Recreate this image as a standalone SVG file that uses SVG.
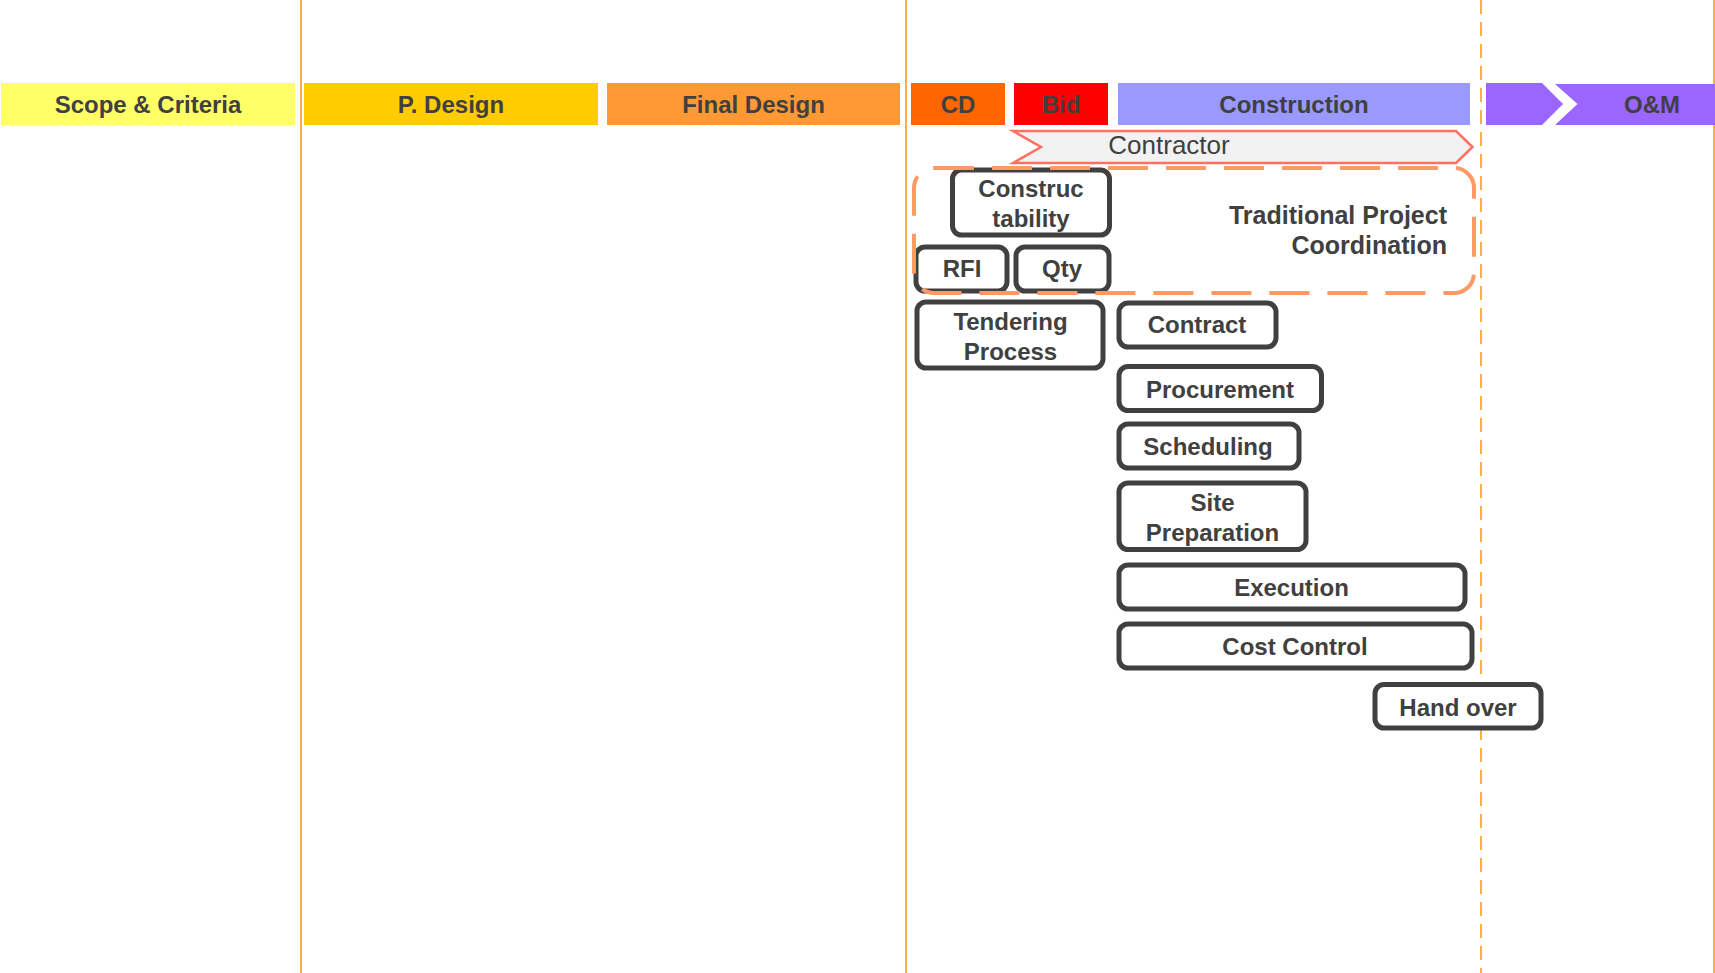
<svg xmlns="http://www.w3.org/2000/svg" width="1715" height="973" viewBox="0 0 1715 973">
<style>
.bg{fill:#ffffff}
.vl{stroke:#f7b13c;stroke-width:2;fill:none}
.vd{stroke:#f7b13c;stroke-width:2;fill:none;stroke-dasharray:14 8}
.hd{font-family:"Liberation Sans",Arial,sans-serif;font-weight:bold;font-size:24px;fill:#404040;text-anchor:middle}
.box{fill:#ffffff;stroke:#404040;stroke-width:5}
.bt{font-family:"Liberation Sans",Arial,sans-serif;font-weight:bold;font-size:24px;fill:#404040;text-anchor:middle}
.tpc{fill:none;stroke:#ff9966;stroke-width:4;stroke-dasharray:40 18}
</style>
<rect class="bg" x="0" y="0" width="1715" height="973"/>
<g id="guides">
<line class="vl" x1="301" y1="0" x2="301" y2="973"/>
<line class="vl" x1="906" y1="0" x2="906" y2="973"/>
<line class="vd" x1="1481" y1="0" x2="1481" y2="973"/>
<line class="vl" x1="1714" y1="0" x2="1714" y2="973"/>
</g>
<g id="phase-scope"><rect x="1" y="83" width="294" height="42" fill="#ffff66"/><text class="hd" x="148" y="113">Scope &amp; Criteria</text></g>
<g id="phase-pdesign"><rect x="304" y="83" width="294" height="42" fill="#ffcc00"/><text class="hd" x="451" y="113">P. Design</text></g>
<g id="phase-final"><rect x="607" y="83" width="293" height="42" fill="#ff9933"/><text class="hd" x="753.5" y="113">Final Design</text></g>
<g id="phase-cd"><rect x="911" y="83" width="94" height="42" fill="#ff6600"/><text class="hd" x="958" y="113">CD</text></g>
<g id="phase-bid"><rect x="1014" y="83" width="94" height="42" fill="#ff0000"/><text class="hd" x="1061" y="113">Bid</text></g>
<g id="phase-construction"><rect x="1118" y="83" width="352" height="42" fill="#9999ff"/><text class="hd" x="1294" y="113">Construction</text></g>
<g id="phase-om">
<polygon points="1486,83 1542,83 1563,104 1542,125 1486,125" fill="#9966ff"/>
<polygon points="1555,84 1715,84 1715,125 1555,125 1577.5,104" fill="#9966ff"/>
<text class="hd" x="1652" y="113">O&amp;M</text>
</g>
<g id="contractor">
<polygon points="1013,131 1456,131 1472.5,147 1456,163 1013,163 1041,147" fill="#f2f2f2" stroke="#ff7060" stroke-width="2.5"/>
<text x="1169" y="154" font-family="'Liberation Sans',Arial,sans-serif" font-size="26" fill="#404040" text-anchor="middle">Contractor</text>
</g>
<g id="constructability"><rect class="box" x="952.5" y="170" width="157" height="65" rx="9"/><text class="bt" x="1031" y="197">Construc</text><text class="bt" x="1031" y="226.5">tability</text></g>
<g id="rfi"><rect class="box" x="916" y="247" width="91" height="44" rx="9"/><text class="bt" x="962" y="277">RFI</text></g>
<g id="qty"><rect class="box" x="1016" y="247" width="93" height="44" rx="9"/><text class="bt" x="1062" y="277">Qty</text></g>
<g id="traditional-coordination">
<rect class="tpc" x="914" y="168" width="560" height="125" rx="20"/>
<text class="bt" style="text-anchor:end;font-size:25px" x="1447" y="224">Traditional Project</text>
<text class="bt" style="text-anchor:end;font-size:25px" x="1447" y="253.5">Coordination</text>
</g>
<g id="tendering"><rect class="box" x="917" y="302" width="186" height="66" rx="9"/><text class="bt" x="1010.5" y="330">Tendering</text><text class="bt" x="1010.5" y="360">Process</text></g>
<g id="contract"><rect class="box" x="1119" y="303" width="157" height="44" rx="9"/><text class="bt" x="1197" y="333">Contract</text></g>
<g id="procurement"><rect class="box" x="1119" y="366.5" width="202.5" height="44" rx="9"/><text class="bt" x="1220" y="398">Procurement</text></g>
<g id="scheduling"><rect class="box" x="1119" y="424" width="180" height="44" rx="9"/><text class="bt" x="1208" y="455">Scheduling</text></g>
<g id="site-preparation"><rect class="box" x="1119" y="483" width="187" height="66.5" rx="9"/><text class="bt" x="1212.5" y="511">Site</text><text class="bt" x="1212.5" y="541">Preparation</text></g>
<g id="execution"><rect class="box" x="1119" y="565" width="346" height="44" rx="9"/><text class="bt" x="1291.5" y="596">Execution</text></g>
<g id="cost-control"><rect class="box" x="1119" y="624" width="353" height="44" rx="9"/><text class="bt" x="1295" y="654.5">Cost Control</text></g>
<g id="hand-over"><rect class="box" x="1375" y="684.5" width="166" height="43.5" rx="9"/><text class="bt" x="1458" y="715.5">Hand over</text></g>
</svg>
